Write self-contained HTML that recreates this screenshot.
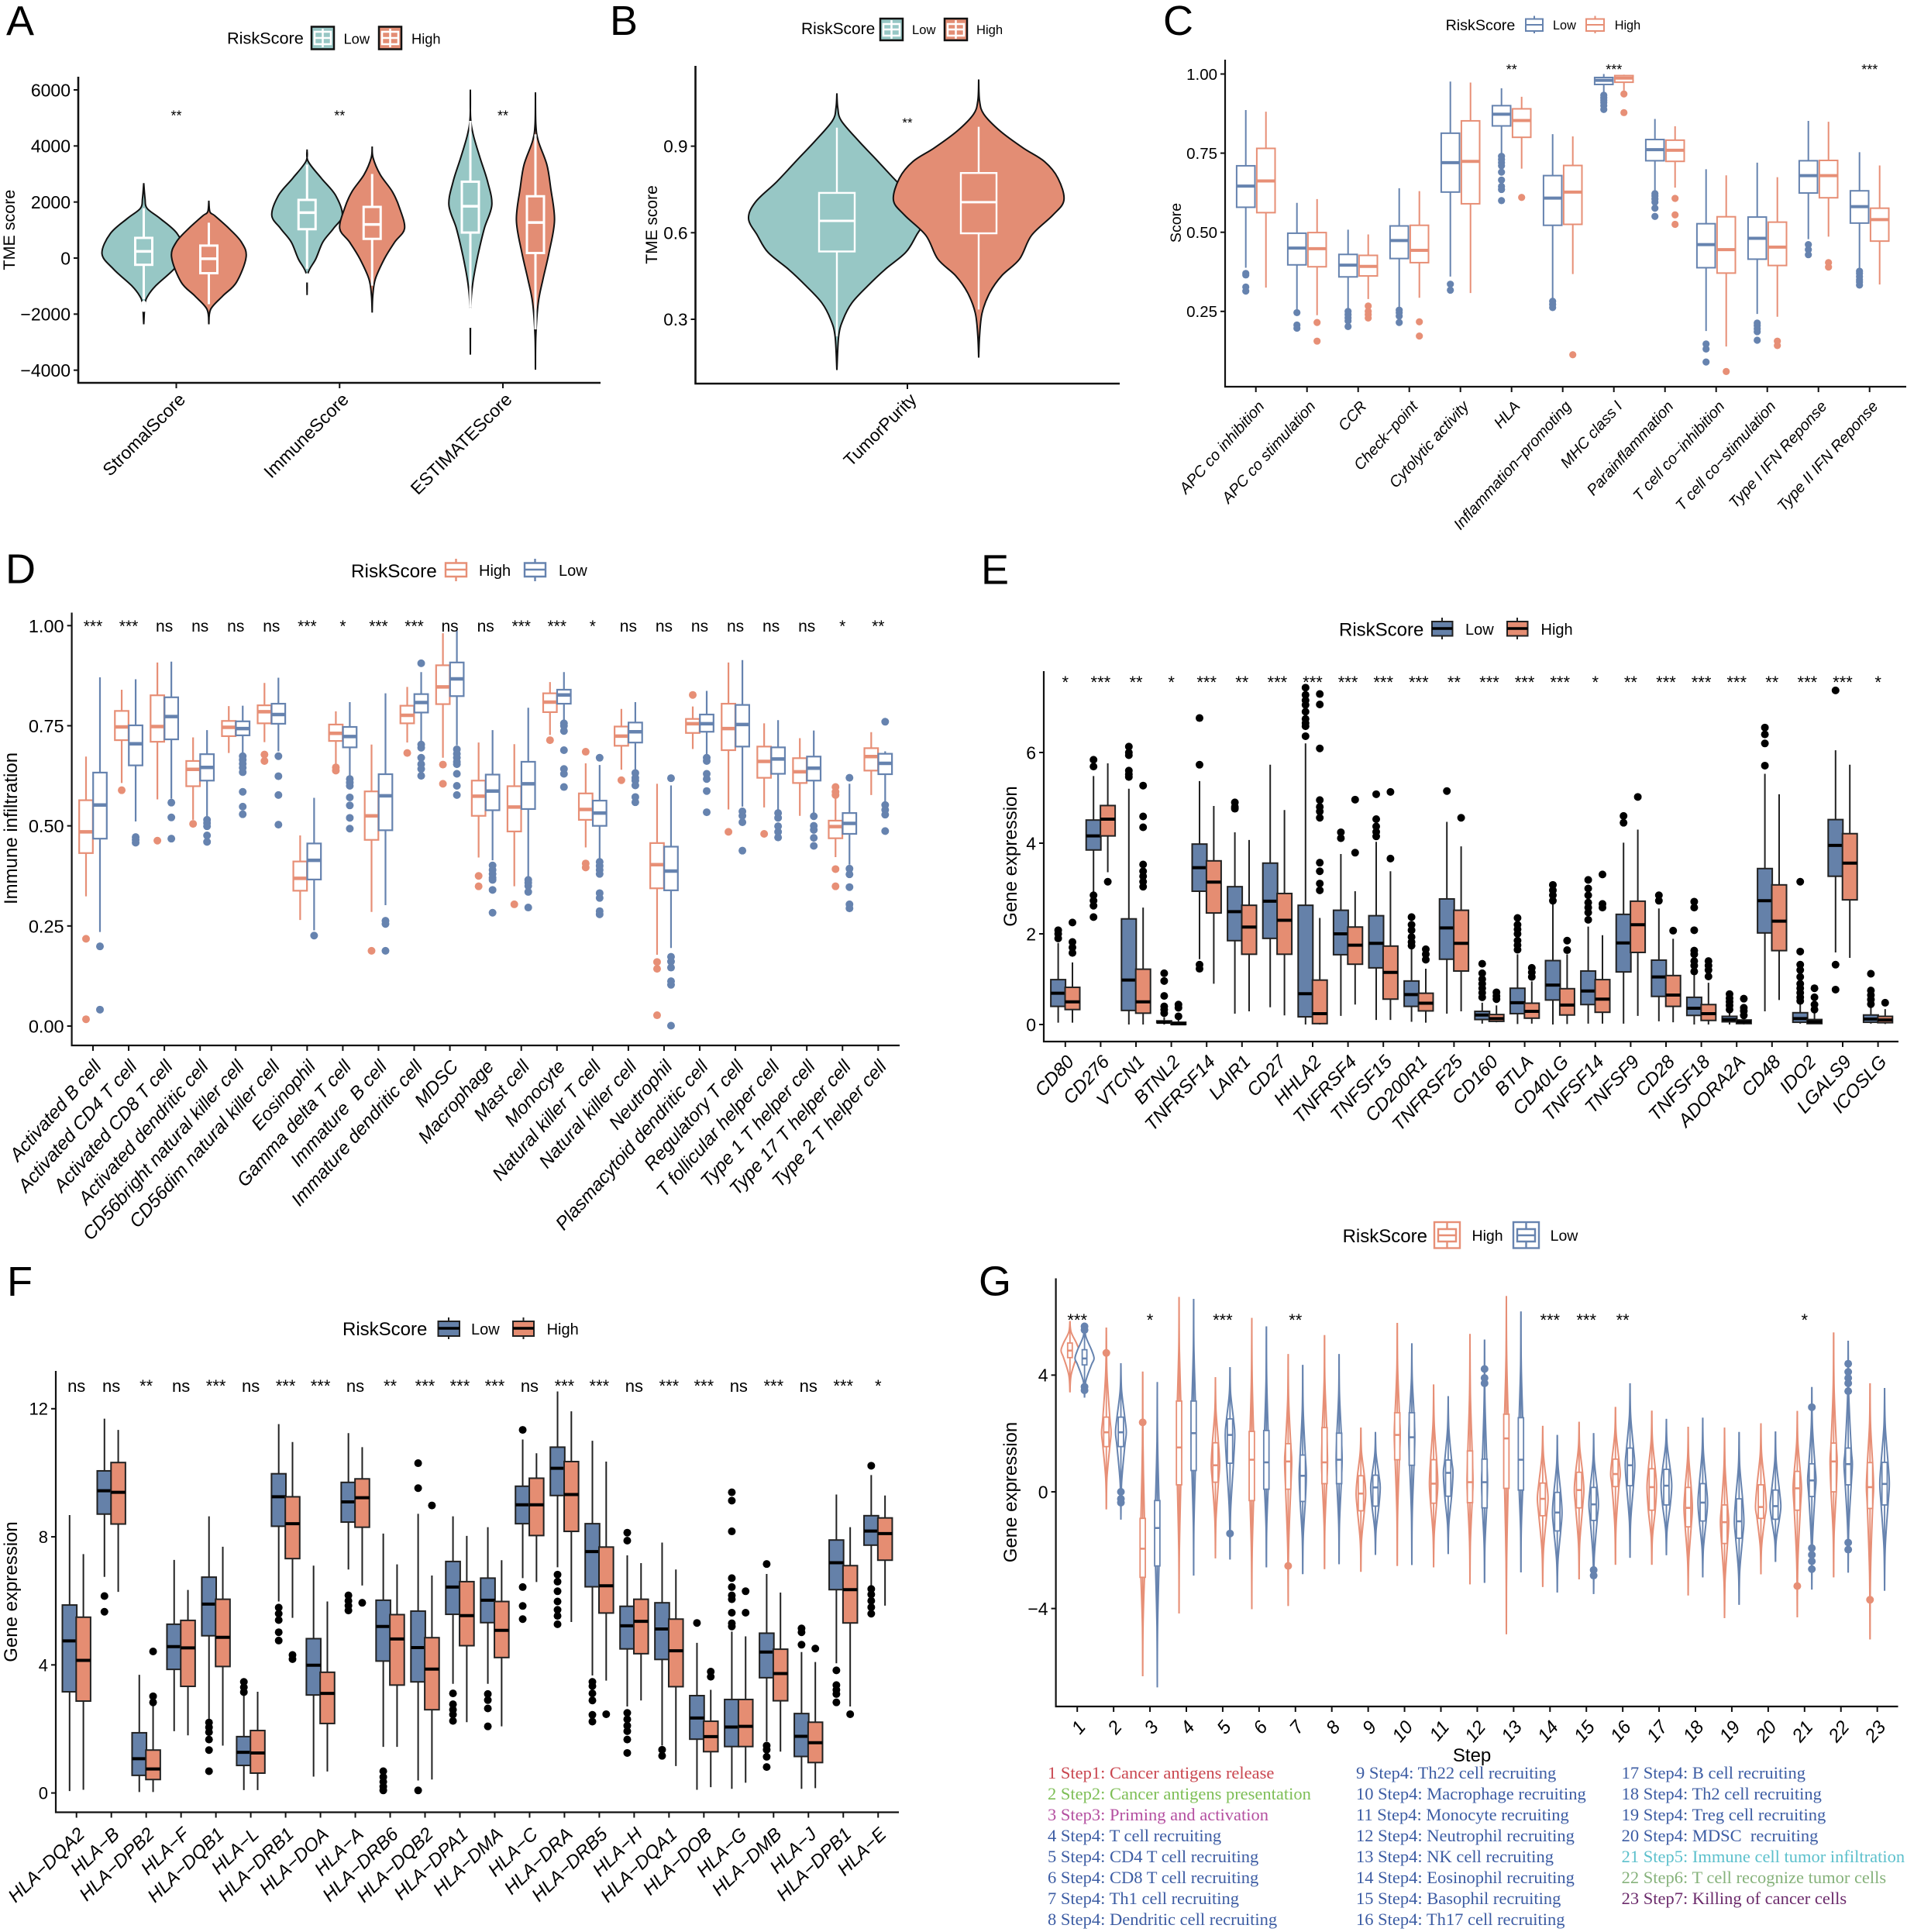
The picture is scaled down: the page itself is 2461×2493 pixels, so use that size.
<!DOCTYPE html>
<html lang="en">
<head>
<meta charset="utf-8">
<title>Immune landscape panels by RiskScore</title>
<style>
html,body{margin:0;padding:0;background:#fff}
svg{display:block;font-family:"Liberation Sans",sans-serif;fill:#000}
svg text{white-space:pre}
.lt{font-size:54px}
.at{font-size:24px;text-anchor:middle}
.st{font-family:"Liberation Serif",serif;font-size:22.5px}
</style>
</head>
<body>
<svg id="chart" xmlns="http://www.w3.org/2000/svg" width="2461" height="2493" viewBox="0 0 2461 2493">
<rect x="0" y="0" width="2461" height="2493" fill="#fff"/>

<text class="lt" x="8" y="45.5">A</text>
<text class="lt" x="787" y="45">B</text>
<text class="lt" x="1501" y="45">C</text>
<text class="lt" x="7" y="752.5">D</text>
<text class="lt" x="1266" y="753.5">E</text>
<text class="lt" x="9" y="1672">F</text>
<text class="lt" x="1263" y="1671.5">G</text>

<text class="at" style="font-size:21.5px" transform="translate(19,296.6) rotate(-90)">TME score</text>
<text class="at" style="font-size:21px" transform="translate(848,290) rotate(-90)">TME score</text>
<text class="at" style="font-size:19.6px" transform="translate(1524,287.5) rotate(-90)">Score</text>
<text class="at" transform="translate(22,1069) rotate(-90)">Immune infiltration</text>
<text class="at" transform="translate(1312,1105) rotate(-90)">Gene expression</text>
<text class="at" transform="translate(22,2054) rotate(-90)">Gene expression</text>
<text class="at" transform="translate(1312,1925.5) rotate(-90)">Gene expression</text>
<text class="at" x="1899.6" y="2273">Step</text>

<!-- Legend A -->
<g>
<text x="293" y="56.4" font-size="21.7">RiskScore</text>
<g><rect x="402" y="34.5" width="29" height="29" fill="#97C7C5" stroke="#111" stroke-width="2.5"/><path d="M416.5 37V61M406 41H427V57H406ZM406 49H427" fill="none" stroke="#fff" stroke-width="2.5"/></g>
<text x="443.5" y="56.6" font-size="18.3">Low</text>
<g><rect x="489" y="34.5" width="29" height="29" fill="#E38D74" stroke="#111" stroke-width="2.5"/><path d="M503.5 37V61M493 41H514V57H493ZM493 49H514" fill="none" stroke="#fff" stroke-width="2.5"/></g>
<text x="531" y="56.6" font-size="18.3">High</text>
</g>
<!-- Legend B -->
<g>
<text x="1034" y="44" font-size="20.9">RiskScore</text>
<g><rect x="1136" y="24" width="29" height="28" fill="#97C7C5" stroke="#111" stroke-width="2.5"/><path d="M1150.5 26V50M1140 31H1161V46H1140ZM1140 38H1161" fill="none" stroke="#fff" stroke-width="2.5"/></g>
<text x="1177" y="44" font-size="16.6">Low</text>
<g><rect x="1219" y="24" width="29" height="28" fill="#E38D74" stroke="#111" stroke-width="2.5"/><path d="M1233.5 26V50M1223 31H1244V46H1223ZM1223 38H1244" fill="none" stroke="#fff" stroke-width="2.5"/></g>
<text x="1260" y="44" font-size="16.6">High</text>
</g>
<!-- Legend C -->
<g>
<text x="1865.6" y="39" font-size="19.7">RiskScore</text>
<path d="M1980 20.5V24.5M1980 40V43M1969 24.5H1991V40H1969ZM1969 32H1991" fill="#fff" stroke="#6683AF" stroke-width="2"/>
<text x="2004" y="38" font-size="16.3">Low</text>
<path d="M2058.5 20.5V24.5M2058.5 40V43M2047 24.5H2070V40H2047ZM2047 32H2070" fill="#fff" stroke="#E78F76" stroke-width="2"/>
<text x="2083.7" y="38" font-size="16.3">High</text>
</g>
<!-- Legend D -->
<g>
<text x="453" y="745" font-size="24.3">RiskScore</text>
<path d="M588.5 721V726.5M588.5 744V750M575 726.5H602V744H575ZM575 735H602" fill="#fff" stroke="#E78F76" stroke-width="2.4"/>
<text x="618" y="743" font-size="20">High</text>
<path d="M690.5 721V726.5M690.5 744V750M677 726.5H704V744H677ZM677 735H704" fill="#fff" stroke="#6683AF" stroke-width="2.4"/>
<text x="721" y="743" font-size="20">Low</text>
</g>
<!-- Legend E -->
<g>
<text x="1728" y="820.5" font-size="24">RiskScore</text>
<g><rect x="1848" y="802" width="26.5" height="18.5" fill="#6581A9" stroke="#222" stroke-width="2"/><path d="M1861 797V802M1861 820.5V825" stroke="#222" stroke-width="2"/><path d="M1848 811H1874.5" stroke="#000" stroke-width="3.5"/></g>
<text x="1891" y="819" font-size="20">Low</text>
<g><rect x="1945" y="802" width="26.5" height="18.5" fill="#E58D72" stroke="#222" stroke-width="2"/><path d="M1958 797V802M1958 820.5V825" stroke="#222" stroke-width="2"/><path d="M1945 811H1971.5" stroke="#000" stroke-width="3.5"/></g>
<text x="1988.5" y="819" font-size="20">High</text>
</g>
<!-- Legend F -->
<g>
<text x="442" y="1723" font-size="24">RiskScore</text>
<g><rect x="565.5" y="1705" width="27.5" height="19" fill="#6581A9" stroke="#222" stroke-width="2"/><path d="M579 1700V1705M579 1724V1728" stroke="#222" stroke-width="2"/><path d="M565.5 1714H593" stroke="#000" stroke-width="3.5"/></g>
<text x="608" y="1722" font-size="20">Low</text>
<g><rect x="662" y="1705" width="27" height="19" fill="#E58D72" stroke="#222" stroke-width="2"/><path d="M675.5 1700V1705M675.5 1724V1728" stroke="#222" stroke-width="2"/><path d="M662 1714H689" stroke="#000" stroke-width="3.5"/></g>
<text x="705.6" y="1722" font-size="20">High</text>
</g>
<!-- Legend G -->
<g>
<text x="1732.6" y="1603" font-size="24">RiskScore</text>
<g fill="none" stroke="#E78F76" stroke-width="2.4"><rect x="1851" y="1577" width="33" height="33.5"/><path d="M1867.5 1577V1586M1867.5 1602V1610M1856 1586H1879V1602H1856ZM1856 1594H1879"/></g>
<text x="1899.5" y="1601" font-size="19.5">High</text>
<g fill="none" stroke="#6683AF" stroke-width="2.4"><rect x="1953" y="1577" width="33" height="33.5"/><path d="M1969.5 1577V1586M1969.5 1602V1610M1958 1586H1981V1602H1958ZM1958 1594H1981"/></g>
<text x="2000.6" y="1601" font-size="19.5">Low</text>
</g>

<!-- Step legend under panel G -->
<g>
<g fill="#3C5CA3">
<text class="st" fill="#C9464F" x="1352" y="2295">1 Step1: Cancer antigens release</text>
<text class="st" fill="#7DBE55" x="1352" y="2322">2 Step2: Cancer antigens presentation</text>
<text class="st" fill="#B44FA0" x="1352" y="2349">3 Step3: Priming and activation</text>
<text class="st" x="1352" y="2376">4 Step4: T cell recruiting</text>
<text class="st" x="1352" y="2403">5 Step4: CD4 T cell recruiting</text>
<text class="st" x="1352" y="2430">6 Step4: CD8 T cell recruiting</text>
<text class="st" x="1352" y="2457">7 Step4: Th1 cell recruiting</text>
<text class="st" x="1352" y="2484">8 Step4: Dendritic cell recruiting</text>
<text class="st" x="1750" y="2295">9 Step4: Th22 cell recruiting</text>
<text class="st" x="1750" y="2322">10 Step4: Macrophage recruiting</text>
<text class="st" x="1750" y="2349">11 Step4: Monocyte recruiting</text>
<text class="st" x="1750" y="2376">12 Step4: Neutrophil recruiting</text>
<text class="st" x="1750" y="2403">13 Step4: NK cell recruiting</text>
<text class="st" x="1750" y="2430">14 Step4: Eosinophil recruiting</text>
<text class="st" x="1750" y="2457">15 Step4: Basophil recruiting</text>
<text class="st" x="1750" y="2484">16 Step4: Th17 cell recruiting</text>
<text class="st" x="2092.6" y="2295">17 Step4: B cell recruiting</text>
<text class="st" x="2092.6" y="2322">18 Step4: Th2 cell recruiting</text>
<text class="st" x="2092.6" y="2349">19 Step4: Treg cell recruiting</text>
<text class="st" x="2092.6" y="2376">20 Step4: MDSC  recruiting</text>
<text class="st" fill="#5CC0CC" x="2092.6" y="2403">21 Step5: Immune cell tumor infiltration</text>
<text class="st" fill="#86B27B" x="2092.6" y="2430">22 Step6: T cell recognize tumor cells</text>
<text class="st" fill="#6B2A6B" x="2092.6" y="2457">23 Step7: Killing of cancer cells</text>
</g>
</g>
</svg>

<script>
/* ===== Panel A data: violins are [value, density] */
const aCategories = ["StromalScore","ImmuneScore","ESTIMATEScore"];
const aSignificance = ["**","**","**"];
const aTicks = [-4000,-2000,0,2000,4000,6000];
const aTickLabels = ["−4000","−2000","0","2000","4000","6000"];
const aLowDensity = [
 [[2675,0],[2135,.03],[1775,.08],[1415,.39],[875,.8],[155,1],[-385,.73],[-985,.29],[-1345,.1],[-1645,.03],[-2360,0]],
 [[3875,0],[3455,.03],[2855,.4],[2255,.8],[1535,1],[1055,.75],[575,.45],[-25,.25],[-565,.02],[-1320,0]],
 [[6010,0],[5015,.01],[4415,.13],[3575,.45],[2735,.8],[1895,1],[1055,.65],[95,.35],[-865,.12],[-1705,.02],[-3445,0]]
];
const aHighDensity = [
 [[2050,0],[1650,.03],[1510,.16],[1055,.54],[575,.87],[35,1],[-865,.74],[-1345,.38],[-1825,.05],[-2360,0]],
 [[3980,0],[3575,.03],[2975,.25],[2375,.62],[1775,.85],[1055,1],[575,.7],[-25,.38],[-745,.1],[-1345,.02],[-1945,0]],
 [[5915,0],[4775,.02],[4175,.15],[3335,.6],[2495,.8],[1355,1],[215,.72],[-745,.4],[-1585,.15],[-2785,.02],[-3985,0]]
];
const aLowViolinWidth = [103,87,53];
const aHighViolinWidth = [92,80,47];
const aLowBox = [[-1465,-240,240,720,1775,-1600,-1680,-1760,-1840],[-385,1030,1620,2075,3335,-620,-680,-740,-790],[-1765,910,1850,2725,4895,-1850,-1930,-2010,-2090,-2170,-2250,-2330,-2410]];
const aHighBox = [[-1645,-540,-25,445,1260],[-985,685,1200,1825,3000],[-2545,180,1270,2205,4415]];

/* ===== Panel B data */
const bCategories = ["TumorPurity"];
const bSignificance = ["**"];
const bTicks = [0.3,0.6,0.9];
const bTickLabels = ["0.3","0.6","0.9"];
const bLowDensity = [[[1.083,0],[1.034,.01],[.988,.05],[.917,.25],[.859,.43],[.777,.68],[.707,.92],[.649,1],[.591,.9],[.532,.78],[.474,.55],[.416,.35],[.357,.17],[.299,.07],[.241,.02],[.124,0]]];
const bHighDensity = [[[1.131,0],[1.058,.01],[1.011,.06],[.953,.25],[.894,.52],[.847,.77],[.789,.93],[.713,1],[.661,.87],[.591,.62],[.509,.48],[.451,.27],[.392,.13],[.322,.04],[.241,.01],[.167,0]]];
const bLowBox = [[.241,.535,.641,.738,.964]];
const bHighBox = [[.334,.598,.706,.807,.967]];

/* ===== Panel C data: [whiskerLow,q1,median,q3,whiskerHigh,...outliers] */
const cCategories = ["APC co inhibition","APC co stimulation","CCR","Check−point","Cytolytic activity","HLA","Inflammation−promoting","MHC class I","Parainflammation","T cell co−inhibition","T cell co−stimulation","Type I IFN Reponse","Type II IFN Reponse"];
const cSignificance = ["","","","","","**","","***","","","","","***"];
const cTicks = [.25,.5,.75,1];
const cTickLabels = ["0.25","0.50","0.75","1.00"];
const cLow = [
 [.388,.579,.646,.71,.886,.37,.365,.327,.314],
 [.257,.397,.45,.497,.593,.246,.207,.197],
 [.259,.359,.396,.43,.508,.25,.24,.23,.22,.202],
 [.264,.417,.474,.52,.639,.254,.246,.235,.215],
 [.36,.627,.72,.813,.976,.336,.317],
 [.748,.836,.873,.9,.955,.74,.73,.72,.71,.69,.665,.645,.635,.6],
 [.289,.522,.608,.679,.81,.282,.272,.262],
 [.943,.967,.98,.989,1,.933,.925,.917,.91,.9,.888],
 [.631,.726,.761,.793,.858,.622,.615,.605,.595,.576,.55],
 [.188,.388,.461,.527,.699,.147,.131,.09],
 [.242,.415,.481,.548,.72,.213,.205,.195,.186,.159],
 [.478,.624,.679,.726,.852,.461,.445,.429],
 [.388,.529,.581,.631,.753,.377,.37,.36,.35,.343,.333]
];
const cHigh = [
 [.325,.562,.662,.765,.881],
 [.238,.391,.448,.499,.605,.215,.156],
 [.289,.362,.392,.427,.493,.267,.25,.24,.229],
 [.293,.404,.443,.522,.63,.217,.172],
 [.308,.59,.724,.852,.973],
 [.701,.8,.853,.89,.928,.61],
 [.368,.525,.627,.711,.803,.113],
 [.948,.974,.987,.995,.998,.937,.878],
 [.641,.724,.759,.791,.835,.607,.555,.525],
 [.139,.371,.445,.549,.68,.06],
 [.233,.395,.453,.532,.674,.156,.142],
 [.486,.609,.679,.727,.849,.404,.39],
 [.335,.472,.54,.576,.711]
];

/* ===== Panel D data */
const dCategories = ["Activated B cell","Activated CD4 T cell","Activated CD8 T cell","Activated dendritic cell","CD56bright natural killer cell","CD56dim natural killer cell","Eosinophil","Gamma delta T cell","Immature  B cell","Immature dendritic cell","MDSC","Macrophage","Mast cell","Monocyte","Natural killer T cell","Natural killer cell","Neutrophil","Plasmacytoid dendritic cell","Regulatory T cell","T follicular helper cell","Type 1 T helper cell","Type 17 T helper cell","Type 2 T helper cell"];
const dSignificance = ["***","***","ns","ns","ns","ns","***","*","***","***","ns","ns","***","***","*","ns","ns","ns","ns","ns","ns","*","**"];
const dTicks = [0,.25,.5,.75,1];
const dTickLabels = ["0.00","0.25","0.50","0.75","1.00"];
const dHigh = [
 [.324,.432,.485,.564,.673,.218,.017],
 [.607,.714,.747,.787,.84,.589],
 [.566,.71,.748,.826,.908,.463],
 [.515,.599,.641,.662,.721,.505],
 [.682,.724,.746,.762,.799],
 [.709,.756,.785,.801,.857,.678,.662],
 [.265,.338,.369,.411,.476],
 [.654,.712,.731,.753,.786,.646,.638],
 [.285,.465,.525,.586,.703,.188],
 [.708,.756,.776,.8,.847,.682],
 [.67,.804,.847,.901,.981,.653,.605],
 [.421,.525,.574,.613,.708,.375,.349],
 [.349,.486,.547,.599,.704,.304],
 [.727,.784,.809,.831,.859,.714],
 [.446,.515,.541,.581,.656,.685,.406,.396],
 [.64,.7,.724,.748,.792,.614],
 [.178,.344,.403,.457,.605,.16,.143,.027],
 [.692,.732,.755,.767,.798,.827],
 [.541,.689,.743,.805,.908,.485],
 [.546,.62,.661,.698,.756,.48],
 [.525,.607,.635,.669,.719],
 [.422,.469,.498,.513,.605,.597,.585,.577,.392,.349],
 [.577,.638,.673,.694,.734]
];
const dLow = [
 [.235,.468,.552,.633,.871,.199,.041],
 [.511,.651,.705,.751,.866,.472,.465,.458],
 [.568,.716,.773,.821,.91,.558,.521,.468],
 [.524,.613,.646,.679,.739,.515,.507,.499,.476,.46],
 [.682,.726,.743,.761,.8,.674,.665,.655,.645,.634,.585,.548,.529],
 [.686,.755,.778,.805,.87,.674,.624,.577,.503],
 [.239,.366,.414,.456,.57,.226],
 [.625,.696,.723,.747,.809,.617,.608,.6,.571,.551,.52,.493],
 [.302,.489,.575,.629,.831,.263,.255,.188],
 [.711,.783,.808,.829,.884,.906,.703,.695,.67,.654,.642,.625],
 [.701,.824,.867,.908,.988,.691,.68,.67,.66,.654,.63,.6,.577],
 [.414,.539,.587,.628,.739,.401,.39,.38,.37,.365,.34,.283],
 [.373,.542,.605,.66,.795,.365,.358,.35,.335,.296],
 [.764,.805,.827,.84,.884,.756,.75,.737,.689,.642,.63,.597],
 [.418,.5,.532,.563,.652,.67,.41,.4,.39,.38,.332,.32,.287,.279],
 [.64,.708,.735,.758,.809,.632,.62,.613,.601,.572,.559],
 [.195,.339,.387,.448,.601,.619,.173,.161,.146,.112,.103,.001],
 [.678,.735,.755,.778,.837,.67,.662,.63,.617,.587,.534],
 [.548,.698,.753,.802,.914,.536,.525,.509,.438],
 [.54,.63,.667,.696,.764,.532,.52,.499,.485,.471],
 [.532,.613,.644,.673,.738,.524,.5,.49,.47,.45],
 [.403,.48,.506,.532,.605,.62,.393,.379,.347,.304,.294],
 [.556,.629,.656,.68,.686,.76,.552,.54,.528,.487]
];

/* ===== Panel E data */
const eCategories = ["CD80","CD276","VTCN1","BTNL2","TNFRSF14","LAIR1","CD27","HHLA2","TNFRSF4","TNFSF15","CD200R1","TNFRSF25","CD160","BTLA","CD40LG","TNFSF14","TNFSF9","CD28","TNFSF18","ADORA2A","CD48","IDO2","LGALS9","ICOSLG"];
const eSignificance = ["*","***","**","*","***","**","***","***","***","***","***","**","***","***","***","*","**","***","***","***","**","***","***","*"];
const eTicks = [0,2,4,6];
const eTickLabels = ["0","2","4","6"];
const eLow = [
 [.04,.4,.69,.99,1.8,1.9,2,2.08],
 [2.92,3.85,4.16,4.51,5.48,2.85,2.73,2.62,2.37,5.84,5.69],
 [0,.31,.98,2.33,5.2,6.13,6,5.94,5.6,5.52,5.46],
 [0,.04,.05,.08,.16,1.13,.96,.63,.4,.33,.25],
 [1.44,2.94,3.46,3.98,5.37,6.76,5.73,1.32,1.23],
 [.24,1.85,2.49,3.04,4.24,4.9,4.8,4.76],
 [.38,1.9,2.72,3.56,5.73],
 [0,.17,.68,2.63,6.2,7.43,7.27,7.15,7.05,6.9,6.74,6.65,6.58,6.36],
 [.19,1.54,2,2.52,3.76,4.24,4.11],
 [.1,1.25,1.79,2.4,4.03,5.08,4.53,4.37,4.25,4.15],
 [.06,.4,.66,.96,1.7,2.37,2.2,2.08,1.93,1.82,1.74],
 [.24,1.44,2.13,2.77,4.47,5.15],
 [.02,.11,.21,.29,.48,1.34,1.13,1,.9,.8,.7,.6],
 [.01,.24,.48,.8,1.55,2.35,2.2,2.1,2,1.85,1.75,1.65],
 [0,.54,.87,1.41,2.66,3.08,2.96,2.85,2.73],
 [.02,.44,.74,1.18,2.16,3.19,3,2.85,2.69,2.58,2.47,2.31],
 [.02,1.16,1.8,2.43,4.01,4.6,4.45],
 [.07,.62,1.05,1.42,2.56,2.85,2.73],
 [0,.2,.36,.6,1.13,2.71,2.58,2.08,1.63,1.55,1.4,1.3,1.17],
 [0,.06,.11,.18,.25,.67,.58,.5,.42,.33],
 [.29,2.02,2.73,3.44,5.53,6.55,6.4,6.2,5.71],
 [.02,.05,.13,.26,.48,3.15,1.61,1.32,1.2,1.05,.9,.8,.7,.6,.52],
 [1.59,3.27,3.95,4.52,6.05,7.37,1.32,.77],
 [.02,.05,.12,.21,.4,1.12,.75,.65,.55,.45]
];
const eHigh = [
 [.04,.33,.5,.82,1.37,1.58,1.7,1.82,2.25],
 [3.36,4.16,4.53,4.83,5.76,3.15],
 [0,.25,.5,1.22,2.58,5.27,4.59,4.35,3.53,3.38,3.27,3.15,3.04],
 [0,0,.015,.05,.11,.44,.37,.18],
 [.9,2.46,3.14,3.61,4.82],
 [.29,1.55,2.15,2.63,4.07],
 [.2,1.55,2.3,2.89,4.73],
 [0,.02,.24,.98,2.35,7.29,7.06,6.09,4.95,4.8,4.7,4.56,3.57,3.38,3.11,2.96],
 [.44,1.33,1.75,2.15,2.94,4.96,3.79],
 [.1,.56,1.15,1.73,3.38,5.13,3.66],
 [.04,.3,.47,.69,1.23,1.66,1.55,1.43],
 [.29,1.18,1.79,2.52,3.93,4.56],
 [.05,.07,.13,.22,.42,.71,.63,.56],
 [.02,.14,.29,.47,.95,1.25,1.15,1.05],
 [.01,.21,.43,.79,1.55,1.85,1.64],
 [.02,.27,.56,.99,1.97,3.31,2.66,2.58],
 [.19,1.59,2.2,2.72,4.3,5.02],
 [.05,.4,.65,1.08,1.89,2.07],
 [0,.09,.24,.44,.92,1.4,1.3,1.2,1.06],
 [0,.02,.06,.1,.16,.57,.37,.3,.2],
 [.54,1.63,2.28,3.08,5.08],
 [.01,.02,.06,.11,.25,.8,.6,.44,.33],
 [1.47,2.75,3.56,4.21,5.73],
 [.01,.04,.1,.18,.34,.48]
];

/* ===== Panel F data */
const fCategories = ["HLA−DQA2","HLA−B","HLA−DPB2","HLA−F","HLA−DQB1","HLA−L","HLA−DRB1","HLA−DOA","HLA−A","HLA−DRB6","HLA−DQB2","HLA−DPA1","HLA−DMA","HLA−C","HLA−DRA","HLA−DRB5","HLA−H","HLA−DQA1","HLA−DOB","HLA−G","HLA−DMB","HLA−J","HLA−DPB1","HLA−E"];
const fSignificance = ["ns","ns","**","ns","***","ns","***","***","ns","**","***","***","***","ns","***","***","ns","***","***","ns","***","ns","***","*"];
const fTicks = [0,4,8,12];
const fTickLabels = ["0","4","8","12"];
const fLow = [
 [.06,3.16,4.75,5.87,8.68],
 [6.75,8.71,9.44,10.06,11.69,6.15,5.66],
 [.03,.55,1.07,1.88,3.69],
 [1.93,3.86,4.57,5.27,7.28],
 [2.3,4.91,5.9,6.74,8.64,2.2,2.05,1.9,1.67,1.34,.68],
 [.09,.86,1.27,1.76,3.09,3.47,3.3,3.15],
 [5.98,8.33,9.25,9.97,11.52,5.79,5.6,5.4,5.02,4.76],
 [.51,3.06,3.99,4.82,7.1],
 [6.98,8.46,9.09,9.7,11.24,6.17,6,5.85,5.7],
 [1.44,4.12,5.2,6.02,8.1,.68,.5,.35,.2,.08],
 [.39,3.47,4.54,5.68,8.72,10.3,9.52,.08],
 [3.41,5.58,6.43,7.23,8.64,3.11,2.77,2.6,2.45,2.25],
 [3.41,5.32,6.02,6.71,8.3,3.09,2.9,2.64,2.08],
 [6.71,8.41,9,9.58,11.04,11.34,6.43,5.84,5.43],
 [7.05,9.29,10.14,10.8,12.54,6.82,6.6,6.3,5.98,5.72,5.53,5.27],
 [3.67,6.44,7.54,8.41,11,3.47,3.34,3.11,2.89,2.44,2.23],
 [2.7,4.5,5.22,5.83,7.42,8.13,7.88,2.5,2.3,2.1,1.93,1.67,1.25],
 [1.48,4.17,5.12,5.94,7.82,1.35,1.16],
 [.1,1.68,2.34,3.04,4.69,5.31],
 [.13,1.45,2.06,2.92,5.04,9.39,9.13,8.17,6.71,6.43,6.17,6.05,5.63,5.3,5.2],
 [1.61,3.6,4.4,4.99,6.84,7.15,1.48,1.35,1.13,.81],
 [.13,1.14,1.77,2.48,4.4,5.14,5.02,4.63],
 [4.05,6.35,7.19,7.9,9.32,3.83,3.37,3.22,3.09,2.83],
 [6.46,7.74,8.18,8.66,9.93,10.22,6.37,6.2,6,5.8,5.6]
];
const fHigh = [
 [.1,2.87,4.14,5.49,7.46],
 [6.28,8.4,9.39,10.32,11.34],
 [.03,.42,.75,1.34,2.77,4.42,3.02,2.83],
 [1.8,3.33,4.53,5.39,6.34],
 [1.48,3.95,4.86,6.05,7.69],
 [.09,.62,1.25,1.95,3.16],
 [5.47,7.32,8.41,9.25,10.96,4.31,4.18],
 [.67,2.17,3.11,3.77,5.98],
 [6.48,8.3,9.22,9.81,10.8,5.94],
 [1.44,3.37,4.81,5.57,7.14],
 [.42,2.6,3.87,4.85,6.79,8.98],
 [2.21,4.6,5.54,6.6,8.03],
 [2.08,4.23,5.08,5.98,7.27],
 [6.59,8.04,9,9.83,10.61],
 [5.34,8.17,9.32,10.35,11.92],
 [3.51,5.62,6.47,7.68,10.35,2.46],
 [2.89,4.35,5.36,6.05,7.18],
 [.84,3.32,4.44,5.43,6.98],
 [.18,1.29,1.76,2.24,3.22,3.79,3.63],
 [.32,1.45,2.08,2.92,4.89,6.3,5.63],
 [1.29,2.88,3.73,4.49,6.26],
 [.15,.95,1.57,2.21,4.09,4.51],
 [2.7,5.31,6.35,7.1,8.3,2.46],
 [5.85,7.27,8.1,8.59,9.29]
];

/* ===== Panel G data: [bottom,q1,median,q3,top,...outliers] plus relative density peak */
const gCategories = ["1","2","3","4","5","6","7","8","9","10","11","12","13","14","15","16","17","18","19","20","21","22","23"];
const gSignificance = ["***","","*","","***","","**","","","","","","","***","***","**","","","","","*","",""];
const gTicks = [-4,0,4];
const gTickLabels = ["−4","0","4"];
const gHigh = [
 [3.41,4.6,4.84,5.1,5.85],
 [-.6,1.55,2.04,2.56,5.63,4.76],
 [-6.32,-2.93,-1.95,-.91,4.12,2.38],
 [-4.17,.24,1.52,3.11,6.68],
 [-2.28,.33,.91,1.68,3.93],
 [-4.02,-.3,1.1,2.07,5.96],
 [-3.91,.09,1.04,1.65,4.72,-2.54],
 [-2.65,.28,1.01,2.2,5.37],
 [-2.74,-.65,-.06,.55,2.2],
 [-2.54,1.1,1.95,2.71,5.79],
 [-2.59,-.39,.28,1.1,3.68],
 [-3.17,-.37,.33,1.4,5.41],
 [-4.88,.12,1.83,2.66,6.71],
 [-3.26,-.82,-.24,.3,2.26],
 [-3,-.55,.06,.67,2.4],
 [-2.5,.18,.61,1.12,2.91],
 [-2.5,-.63,.16,.79,2.78],
 [-3.55,-1.2,-.55,.15,2.23],
 [-4.33,-1.77,-1.04,-.45,2.2],
 [-2.83,-.91,-.52,.24,2.35],
 [-4.3,-.63,.12,.7,2.77,-3.23],
 [-2.93,0,1.04,1.67,5.46],
 [-5.06,-.57,.16,1,3.72,-3.7]
];
const gLow = [
 [3.23,4.35,4.57,4.87,5.79,5.67,5.55,3.6,3.48],
 [-.95,1.55,2.04,2.56,4.41,0,-.24,-.37],
 [-6.7,-2.54,-1.24,-.3,3.76],
 [-2.87,.73,2.01,3.11,6.61],
 [-2.32,.98,1.95,2.5,4.27,-1.43],
 [-2.59,.09,1.01,2.1,5.67],
 [-2.82,-.33,.55,1.26,4.35],
 [-2.48,.28,1.1,2.01,4.72],
 [-2.16,-.49,.15,.57,2.05],
 [-2.51,.91,1.87,2.71,5.09],
 [-2.13,-.15,.65,1.09,3.28],
 [-3.12,-.55,.33,1.12,5.22,4.21,3.9,3.72],
 [-2.76,.06,1.1,2.54,6.18],
 [-3.45,-1.34,-.71,-.02,1.95],
 [-3.5,-.98,-.43,.15,2.01,-2.68,-2.87],
 [-2.26,.21,.91,1.5,3.72],
 [-2.17,-.45,.21,.77,2.5],
 [-2.93,-1,-.37,.28,2.54],
 [-3.87,-1.59,-1.01,-.24,2.05],
 [-2.4,-.94,-.49,.06,2.07],
 [-3.35,-.16,.39,.96,3.59,2.9,-1.93,-2.16,-2.38,-2.65],
 [-2.77,.24,.95,1.5,5.18,4.39,4.11,3.9,3.72,3.45,-1.74,-1.98],
 [-3.39,-.45,.27,1.01,3.56]
];
const gHighPeak = [15,8,4,4,7,4,6,5,8,5,7,5,4,9,8,8,8,7,7,9,7,6,6];
const gLowPeak = [16,9,4,4,8,4,6,5,8,5,8,5,4,8,8,8,9,8,8,9,7,7,8];

/* ===== Drawing helpers ===== */
const NS = "http://www.w3.org/2000/svg";
const root = document.getElementById("chart");
const TEAL = "#97C7C5", SALMON = "#E38D74", BLUE = "#6683AF", ORANGE = "#E78F76", FILLB = "#6581A9", FILLH = "#E58D72";

function node(tag, attrs, parent) {
  const e = document.createElementNS(NS, tag);
  for (const k in attrs) e.setAttribute(k, attrs[k]);
  parent.appendChild(e);
  return e;
}
function linear(d0, r0, d1, r1) {
  return v => r0 + (v - d0) * (r1 - r0) / (d1 - d0);
}
function slug(s) {
  return String(s).toLowerCase().replace(/[^a-z0-9]+/g, "-").replace(/^-|-$/g, "");
}
function smooth(pts) {
  let d = "";
  for (let i = 0; i < pts.length - 1; i++) {
    const p0 = pts[Math.max(i - 1, 0)], p1 = pts[i], p2 = pts[i + 1], p3 = pts[Math.min(i + 2, pts.length - 1)];
    const c1x = p1[0] + (p2[0] - p0[0]) / 6, c1y = p1[1] + (p2[1] - p0[1]) / 6;
    const c2x = p2[0] - (p3[0] - p1[0]) / 6, c2y = p2[1] - (p3[1] - p1[1]) / 6;
    d += "C" + c1x.toFixed(1) + " " + c1y.toFixed(1) + " " + c2x.toFixed(1) + " " + c2y.toFixed(1) + " " + p2[0].toFixed(1) + " " + p2[1].toFixed(1);
  }
  return d;
}
function drawViolin(parent, cx, halfWidth, profile, yScale, fill, stroke, sw, label) {
  const right = profile.map(p => [cx + p[1] * halfWidth, yScale(p[0])]);
  const left = profile.map(p => [cx - p[1] * halfWidth, yScale(p[0])]).reverse();
  const d = "M" + right[0][0].toFixed(1) + " " + right[0][1].toFixed(1) + smooth(right) + smooth(left) + "Z";
  const v = node("path", { d: d, fill: fill, stroke: stroke, "stroke-width": sw }, parent);
  
  
}
function drawBox(parent, cx, hw, values, yScale, st, label) {
  const g = node("g", {}, parent);
  
  
  const wh = node("path", { d: "M" + cx + " " + yScale(values[4]) + "V" + yScale(values[3]) + "M" + cx + " " + yScale(values[1]) + "V" + yScale(values[0]), stroke: st.stroke, "stroke-width": st.sw, fill: "none" }, g);
  
  
  const r = node("rect", { x: cx - hw, y: yScale(values[3]), width: 2 * hw, height: Math.max(yScale(values[1]) - yScale(values[3]), .5), fill: st.fill, stroke: st.stroke, "stroke-width": st.sw }, g);
  
  
  const m = node("line", { x1: cx - hw, x2: cx + hw, y1: yScale(values[2]), y2: yScale(values[2]), stroke: st.median, "stroke-width": st.msw }, g);
  
  
  for (let i = 5; i < values.length; i++) {
    const o = node("circle", { cx: cx, cy: yScale(values[i]), r: st.r, fill: st.dot }, g);
    
    
  }
}
function drawAxes(p, ticks, tickLabels, cats, sig) {
  const g = node("g", {}, root);
  
  
  const ax = node("path", { d: "M" + p.left + " " + p.top + "V" + p.bottom + "H" + p.right, fill: "none", stroke: "#111", "stroke-width": p.axisW || 2.2 }, g);
  
  
  ticks.forEach((t, i) => {
    const y = p.y(t);
    const tk = node("line", { x1: p.left - 6, x2: p.left, y1: y, y2: y, stroke: "#111", "stroke-width": 2 }, g);
    
    
    const lb = node("text", { x: p.left - 10, y: y + p.yFont * .36, "text-anchor": "end", "font-size": p.yFont }, g);
    lb.textContent = tickLabels[i];
    
    
  });
  cats.forEach((c, i) => {
    const x = p.x(i);
    const tk = node("line", { x1: x, x2: x, y1: p.bottom, y2: p.bottom + 7, stroke: "#111", "stroke-width": 2 }, g);
    
    
    const px = x + p.dx, py = p.bottom + p.dy;
    const lb = node("text", { x: px, y: py, "text-anchor": "end", "font-size": p.xFont, transform: "rotate(" + (-p.angle) + " " + px + " " + py + ")", "font-style": p.italic ? "italic" : "normal" }, g);
    lb.textContent = c;
    
    
    if (sig[i]) {
      const s = node("text", { x: x, y: p.sigY, "text-anchor": "middle", "font-size": p.sigFont }, g);
      s.textContent = sig[i];
      
      
    }
  });
}
function layer(name) {
  const g = node("g", {}, root);
  
  
  return g;
}

/* ===== Panel A ===== */
const pA = { id: "a", left: 101, top: 99, bottom: 494, right: 775, axisW: 2.6, y: linear(0, 333, 6000, 116), x: i => 227.5 + i * 210.75, yFont: 23, xFont: 23, angle: 45, dx: 13, dy: 23, sigY: 155.5, sigFont: 18 };
const WHITE_BOX = { stroke: "#fff", fill: "none", sw: 3, median: "#fff", msw: 3.5, r: 3, dot: "#fff" };
const gA = layer("violins-a");
aCategories.forEach((c, i) => {
  const xl = pA.x(i) - 42, xh = pA.x(i) + 42;
  drawViolin(gA, xl, aLowViolinWidth[i] / 1.912, aLowDensity[i], pA.y, TEAL, "#111", 2, slug(c) + '-low');
  drawViolin(gA, xh, aHighViolinWidth[i] / 1.912, aHighDensity[i], pA.y, SALMON, "#111", 2, slug(c) + '-high');
  drawBox(gA, xl, 11, aLowBox[i], pA.y, WHITE_BOX, slug(c) + '-low');
  drawBox(gA, xh, 11, aHighBox[i], pA.y, WHITE_BOX, slug(c) + '-high');
});
drawAxes(pA, aTicks, aTickLabels, aCategories, aSignificance);

/* ===== Panel B ===== */
const pB = { id: "b", left: 897.5, top: 85, bottom: 495, right: 1445, axisW: 2.6, y: linear(.3, 412, .9, 188.6), x: i => 1171 + i, yFont: 22.5, xFont: 22.5, angle: 45, dx: 13, dy: 22, sigY: 164, sigFont: 17 };
const gB = layer("violins-b");
bCategories.forEach((c, i) => {
  const xl = pB.x(i) - 91, xh = pB.x(i) + 92;
  drawViolin(gB, xl, 114, bLowDensity[i], pB.y, TEAL, "#111", 2, slug(c) + '-low');
  drawBox(gB, xl, 23, bLowBox[i], pB.y, { stroke: "#fff", fill: "none", sw: 2.4, median: "#fff", msw: 3, r: 2, dot: "#fff" }, slug(c) + '-low');
  drawViolin(gB, xh, 110, bHighDensity[i], pB.y, SALMON, "#111", 2, slug(c) + '-high');
  drawBox(gB, xh, 23, bHighBox[i], pB.y, { stroke: "#fff", fill: "none", sw: 2.4, median: "#fff", msw: 3, r: 2, dot: "#fff" }, slug(c) + '-high');
});
drawAxes(pB, bTicks, bTickLabels, bCategories, bSignificance);

/* ===== Panel C ===== */
const pC = { id: "c", left: 1581, top: 77, bottom: 499, right: 2460, y: linear(1, 95.5, .25, 401.8), x: i => 1620.7 + i * 66, yFont: 20.5, xFont: 20, angle: 48, italic: true, dx: 12, dy: 26, sigY: 96, sigFont: 18 };
const gC = layer("boxes-c");
cCategories.forEach((c, i) => {
  drawBox(gC, pC.x(i) - 13, 11.8, cLow[i], pC.y, { stroke: BLUE, fill: "#fff", sw: 2, median: BLUE, msw: 4, r: 4.6, dot: BLUE }, slug(c) + '-low');
  drawBox(gC, pC.x(i) + 13, 11.8, cHigh[i], pC.y, { stroke: ORANGE, fill: "#fff", sw: 2, median: ORANGE, msw: 4, r: 4.6, dot: ORANGE }, slug(c) + '-high');
});
drawAxes(pC, cTicks, cTickLabels, cCategories, cSignificance);

/* ===== Panel D ===== */
const pD = { id: "d", left: 92.6, top: 790.5, bottom: 1349, right: 1161, y: linear(0, 1324, 1, 807.3), x: i => 120 + i * 46.06, yFont: 23.5, xFont: 24, angle: 48.5, italic: true, dx: 12, dy: 28, sigY: 815, sigFont: 21 };
const gD = layer("boxes-d");
dCategories.forEach((c, i) => {
  drawBox(gD, pD.x(i) - 9, 8.8, dHigh[i], pD.y, { stroke: ORANGE, fill: "#fff", sw: 2.2, median: ORANGE, msw: 4.5, r: 5, dot: ORANGE }, slug(c) + '-high');
  drawBox(gD, pD.x(i) + 9, 8.8, dLow[i], pD.y, { stroke: BLUE, fill: "#fff", sw: 2.2, median: BLUE, msw: 4.5, r: 5, dot: BLUE }, slug(c) + '-low');
});
drawAxes(pD, dTicks, dTickLabels, dCategories, dSignificance);

/* ===== Panel E ===== */
const pE = { id: "e", left: 1347, top: 866, bottom: 1344, right: 2450, y: linear(0, 1322, 6, 971), x: i => 1374.8 + i * 45.6, yFont: 23, xFont: 24, angle: 47.5, italic: true, dx: 12.5, dy: 27, sigY: 888, sigFont: 22 };
const gE = layer("boxes-e");
eCategories.forEach((c, i) => {
  drawBox(gE, pE.x(i) - 9.2, 9.5, eLow[i], pE.y, { stroke: "#222", fill: FILLB, sw: 2, median: "#000", msw: 4, r: 5, dot: "#000" }, slug(c) + '-low');
  drawBox(gE, pE.x(i) + 9.2, 9.5, eHigh[i], pE.y, { stroke: "#222", fill: FILLH, sw: 2, median: "#000", msw: 4, r: 5, dot: "#000" }, slug(c) + '-high');
});
drawAxes(pE, eTicks, eTickLabels, eCategories, eSignificance);

/* ===== Panel F ===== */
const pF = { id: "f", left: 72, top: 1769, bottom: 2338.5, right: 1160, y: linear(0, 2313.6, 12, 1817.8), x: i => 98.7 + i * 44.98, yFont: 22, xFont: 24, angle: 44, italic: true, dx: 12, dy: 30, sigY: 1796, sigFont: 22 };
const gF = layer("boxes-f");
fCategories.forEach((c, i) => {
  drawBox(gF, pF.x(i) - 8.9, 9.3, fLow[i], pF.y, { stroke: "#222", fill: FILLB, sw: 2, median: "#000", msw: 4, r: 5, dot: "#000" }, slug(c) + '-low');
  drawBox(gF, pF.x(i) + 8.9, 9.3, fHigh[i], pF.y, { stroke: "#222", fill: FILLH, sw: 2, median: "#000", msw: 4, r: 5, dot: "#000" }, slug(c) + '-high');
});
drawAxes(pF, fTicks, fTickLabels, fCategories, fSignificance);

/* ===== Panel G ===== */
const pG = { id: "g", left: 1362.6, top: 1649.5, bottom: 2202, right: 2449.5, y: linear(0, 1925, 4, 1774.4), x: i => 1390.2 + i * 46.93, yFont: 23, xFont: 24, angle: 50, italic: true, dx: 12, dy: 27, sigY: 1711, sigFont: 22 };
function gProfile(s) {
  return [[s[4], 0], [(s[4] + s[3]) / 2, .13], [s[3], .72], [s[2], 1], [s[1], .72], [(s[1] + s[0]) / 2, .13], [s[0], 0]];
}
const gG = layer("violins-g");
gCategories.forEach((c, i) => {
  const xh = pG.x(i) - 9.4, xl = pG.x(i) + 9.4;
  drawViolin(gG, xh, gHighPeak[i] / 1.3, gProfile(gHigh[i]), pG.y, "#fff", ORANGE, 2, 'step-' + c + '-high');
  drawBox(gG, xh, i === 0 ? 3 : 3.4, gHigh[i], pG.y, { stroke: ORANGE, fill: "#fff", sw: 1.8, median: ORANGE, msw: 2.6, r: 5, dot: ORANGE }, 'step-' + c + '-high');
  drawViolin(gG, xl, gLowPeak[i] / 1.3, gProfile(gLow[i]), pG.y, "#fff", BLUE, 2, 'step-' + c + '-low');
  drawBox(gG, xl, i === 0 ? 3 : 3.4, gLow[i], pG.y, { stroke: BLUE, fill: "#fff", sw: 1.8, median: BLUE, msw: 2.6, r: 5, dot: BLUE }, 'step-' + c + '-low');
});
drawAxes(pG, gTicks, gTickLabels, gCategories, gSignificance);
</script>
</body>
</html>
